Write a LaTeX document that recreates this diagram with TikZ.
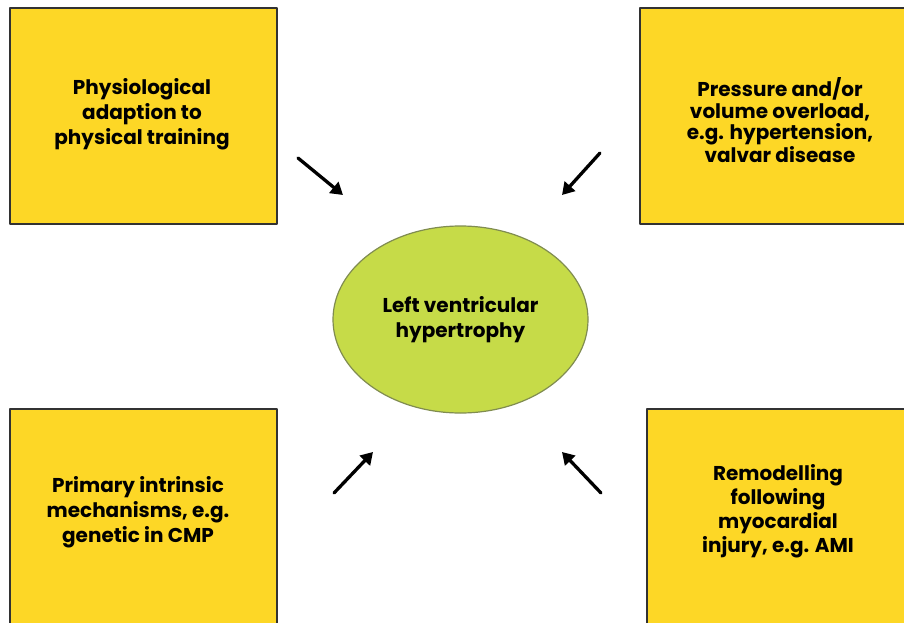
\documentclass[tikz,border=0pt]{standalone}
\usepackage{fontspec}
\setmainfont{Poppins}
\usepackage{tikz}
\usetikzlibrary{arrows.meta,
                shapes.geometric}
\definecolor{fdd726}{RGB}{253,215,38}
\definecolor{c6db48}{RGB}{198,219,72}
\definecolor{edgegreen}{RGB}{128,140,80}
\definecolor{boxedge}{RGB}{50,50,50}
\tikzset{cause/.style={font=\bfseries\fontsize{20}{25}\selectfont,align=center,text=black},
         push/.style={line width=3.3pt,-{Triangle[length=12pt,width=14pt]}}}

\begin{document}
\begin{tikzpicture}[line cap=round,line join=round,x=1pt,y=-1pt]
\useasboundingbox (0,0) rectangle (904,623);
\clip(0,0) rectangle (904,623);
\fill[color=white] (0,0) rectangle (904,623);
% the four causes
\fill[fill=fdd726] (10,8) rectangle (277,224);
\fill[fill=fdd726] (640,8) rectangle (910,224);
\fill[fill=fdd726] (10,409) rectangle (277,630);
\fill[fill=fdd726] (647,409) rectangle (910,630);
\draw[line width=1.3pt,color=boxedge] (10,8) rectangle (277,224);
\draw[line width=1.3pt,color=boxedge] (640,8) rectangle (910,224);
\draw[line width=1.3pt,color=boxedge] (10,409) rectangle (277,630);
\draw[line width=1.3pt,color=boxedge] (647,409) rectangle (910,630);
\node[cause] (phys) at (142,114) {Physiological\\adaption to\\physical training};
\node[cause,font=\bfseries\fontsize{20}{21.5}\selectfont] (press) at (780,120) {Pressure and/or\\volume overload,\\e.g. hypertension,\\valvar disease};
\node[cause] (prim) at (138,512) {Primary intrinsic\\mechanisms, e.g.\\genetic in CMP};
\node[cause,font=\bfseries\fontsize{20}{24}\selectfont] (remod) at (778,511) {Remodelling\\following\\myocardial\\injury, e.g. AMI};
% centre
\node[cause,ellipse,draw=edgegreen,fill=c6db48,line width=1.2pt,inner sep=0pt,
      minimum width=255,minimum height=187] (lvh) at (460.5,319.5) {Left ventricular\\hypertrophy};
% arrows
\coordinate (a1) at (298,158);
\coordinate (b1) at (343,195);
\coordinate (a2) at (600,153);
\coordinate (b2) at (562,195);
\coordinate (a3) at (334,493);
\coordinate (b3) at (373,452);
\coordinate (a4) at (601,493);
\coordinate (b4) at (562,452);
\foreach \i in {1,2,3,4}
\draw[push] (a\i) -- (b\i);
\end{tikzpicture}
\end{document}
